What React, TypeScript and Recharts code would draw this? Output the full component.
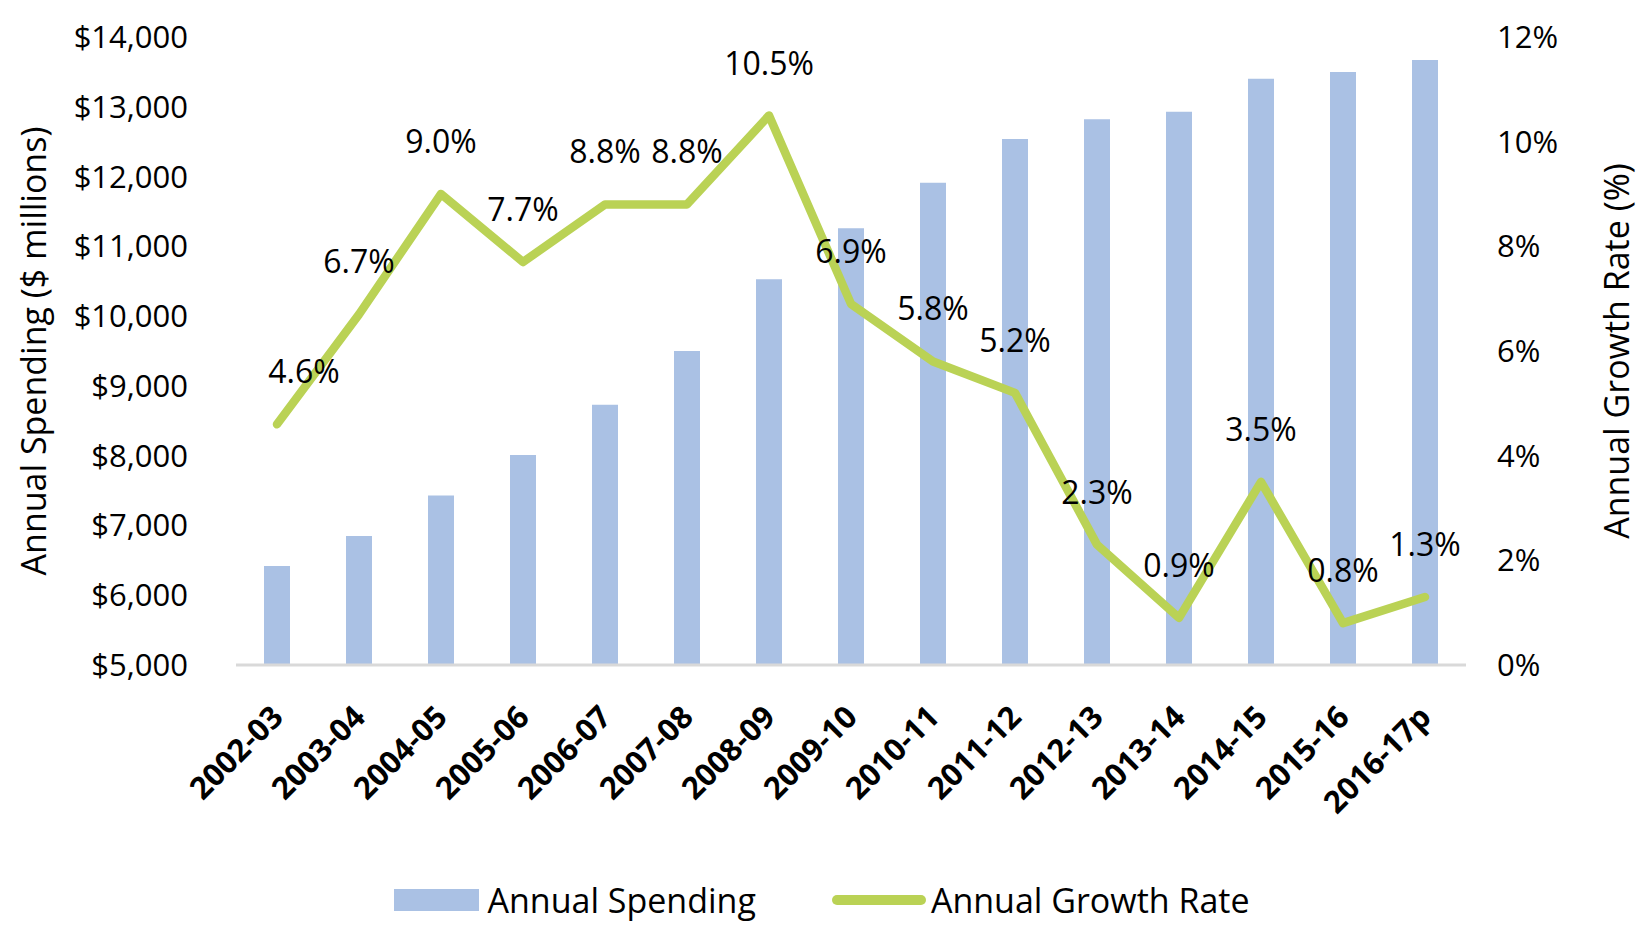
import React from "react";
import {
  ComposedChart,
  Bar,
  Line,
  XAxis,
  YAxis,
  Label,
  LabelList,
  Legend,
} from "recharts";

// values
const years = [
  "2002-03",
  "2003-04",
  "2004-05",
  "2005-06",
  "2006-07",
  "2007-08",
  "2008-09",
  "2009-10",
  "2010-11",
  "2011-12",
  "2012-13",
  "2013-14",
  "2014-15",
  "2015-16",
  "2016-17p",
];
const spending = [
  6420, 6850, 7430, 8010, 8730, 9500, 10530, 11260, 11910, 12540, 12820,
  12930, 13400, 13500, 13670,
];
const growth = [4.6, 6.7, 9.0, 7.7, 8.8, 8.8, 10.5, 6.9, 5.8, 5.2, 2.3, 0.9, 3.5, 0.8, 1.3];
const spendingTicks = [5000, 6000, 7000, 8000, 9000, 10000, 11000, 12000, 13000, 14000];
const growthTicks = [0, 2, 4, 6, 8, 10, 12];

const data = years.map((year, i) => ({
  year,
  spending: spending[i],
  growth: growth[i],
}));

const FONT = "'Open Sans', 'Noto Sans', sans-serif";
const BAR_COLOR = "#AAC1E4";
const LINE_COLOR = "#BAD255";

const XTick = (props: any) => {
  const { x, y, payload } = props;
  return (
    <g transform={`translate(${x + 8},${y + 54})`}>
      <text
        textAnchor="end"
        transform="rotate(-45)"
        fontFamily={FONT}
        fontWeight={700}
        fontSize={31}
        fill="#000"
      >
        {payload.value}
      </text>
    </g>
  );
};

const GrowthLabel = (props: any) => {
  const { x, y, value, index } = props;
  // first label sits a bit right of its point in the original
  const dx = index === 0 ? 27 : 0;
  return (
    <text
      x={x + dx}
      y={y - 41}
      textAnchor="middle"
      fontFamily={FONT}
      fontSize={32}
      fill="#000"
    >
      {Number(value).toFixed(1)}%
    </text>
  );
};

const axisTitle = (text: string, offsetX: number) => (props: any) => {
  const vb = props.viewBox || {};
  const cx = vb.x + offsetX;
  const cy = vb.y + vb.height / 2;
  return (
    <text
      x={cx}
      y={cy}
      transform={`rotate(-90 ${cx} ${cy})`}
      textAnchor="middle"
      dominantBaseline="central"
      fontFamily={FONT}
      fontSize={34}
      fill="#000"
    >
      {text}
    </text>
  );
};

const LegendContent = (props: any) => {
  // bars first, then the line, as in the original
  const items = [...(props.payload || [])].sort(
    (a: any, b: any) => (a.type === "line" ? 1 : 0) - (b.type === "line" ? 1 : 0)
  );
  return (
    <div
      style={{
        height: 50,
        display: "flex",
        justifyContent: "center",
        alignItems: "center",
        fontFamily: FONT,
        fontSize: 34,
        color: "#000",
      }}
    >
      {items.map((item: any, i: number) => (
        <div
          key={i}
          style={{ display: "flex", alignItems: "center", marginLeft: i ? 76 : 0 }}
        >
          {item.type === "line" ? (
            <span
              style={{
                width: 94,
                height: 10,
                borderRadius: 5,
                background: LINE_COLOR,
                marginRight: 5,
              }}
            />
          ) : (
            <span
              style={{ width: 85, height: 22, background: BAR_COLOR, marginRight: 8 }}
            />
          )}
          <span>{item.value}</span>
        </div>
      ))}
    </div>
  );
};

export default function App() {
  return (
    <div
      style={{
        position: "absolute",
        left: 0,
        top: 0,
        width: 1644,
        height: 928,
        background: "#fff",
      }}
    >
      <ComposedChart
        width={1644}
        height={928}
        data={data}
        margin={{ top: 37, right: 0, bottom: 3, left: 0 }}
      >
        <XAxis
          dataKey="year"
          interval={0}
          height={210}
          tickLine={false}
          tickSize={0}
          tickMargin={0}
          axisLine={{ stroke: "#D9D9D9", strokeWidth: 3 }}
          tick={<XTick />}
        />
        <YAxis
          yAxisId="left"
          width={236}
          domain={[5000, 14000]}
          ticks={spendingTicks}
          allowDataOverflow
          axisLine={false}
          tickLine={false}
          tickSize={0}
          tickMargin={48}
          tickFormatter={(v: number) => `$${v.toLocaleString("en-US")}`}
          tick={{ fill: "#000", fontSize: 31, fontFamily: FONT }}
        >
          <Label content={axisTitle("Annual Spending ($ millions)", 33)} />
        </YAxis>
        <YAxis
          yAxisId="right"
          orientation="right"
          width={178}
          domain={[0, 12]}
          ticks={growthTicks}
          axisLine={false}
          tickLine={false}
          tickSize={0}
          tickMargin={31}
          tickFormatter={(v: number) => `${v}%`}
          tick={{ fill: "#000", fontSize: 31, fontFamily: FONT }}
        >
          <Label content={axisTitle("Annual Growth Rate (%)", 150)} />
        </YAxis>
        <Legend verticalAlign="bottom" content={<LegendContent />} />
        <Bar
          yAxisId="left"
          dataKey="spending"
          name="Annual Spending"
          fill={BAR_COLOR}
          barSize={26}
          isAnimationActive={false}
        />
        <Line
          yAxisId="right"
          type="linear"
          dataKey="growth"
          name="Annual Growth Rate"
          stroke={LINE_COLOR}
          strokeWidth={8.5}
          strokeLinejoin="round"
          strokeLinecap="round"
          dot={false}
          activeDot={false}
          legendType="line"
          isAnimationActive={false}
        >
          <LabelList dataKey="growth" content={<GrowthLabel />} />
        </Line>
      </ComposedChart>
    </div>
  );
}
